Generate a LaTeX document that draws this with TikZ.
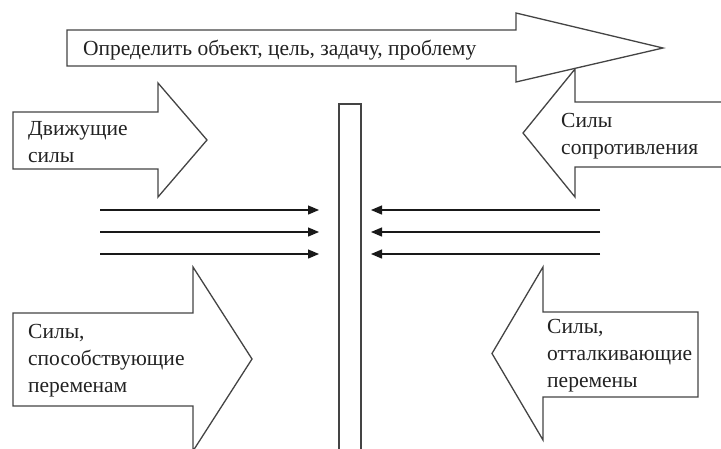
\documentclass[tikz,border=0pt]{standalone}
\usepackage{fontspec}
\setmainfont{Liberation Serif}
\usetikzlibrary{arrows.meta}
\definecolor{linegray}{HTML}{444444}
\definecolor{txt}{HTML}{222222}
\begin{document}
\begin{tikzpicture}[x=1pt,y=-1pt,
  bigarrow/.style={draw=linegray, line width=1.3pt, fill=white, line join=miter},
  lbl/.style={anchor=base west, inner sep=0pt, align=left, font=\fontsize{21.5}{27}\selectfont, text=txt},
  force/.style={draw=black!90, line width=1.3pt, -{Triangle[length=11pt,width=9pt]}}
]
\useasboundingbox (0,0) rectangle (721,448);
\clip (0,0) rectangle (721,448);
\fill[white] (0,0) rectangle (721,448);

% central bar
\draw[bigarrow] (339,455) -- (339,104) -- (361,104) -- (361,455);

% right top arrow (resistance)
\draw[bigarrow] (730,102) -- (575,102) -- (575,69) -- (523,133) -- (575,197) -- (575,167) -- (730,167);

% top arrow
\draw[bigarrow] (67,30) -- (516,30) -- (516,13) -- (663,48) -- (516,82) -- (516,66) -- (67,66) -- cycle;

% left top arrow (driving)
\draw[bigarrow] (13,112) -- (158,112) -- (158,83) -- (207,140) -- (158,197) -- (158,169) -- (13,169) -- cycle;

% bottom left arrow
\draw[bigarrow] (13,313) -- (193,313) -- (193,267) -- (252,359) -- (193,451) -- (193,406) -- (13,406) -- cycle;

% bottom right arrow
\draw[bigarrow] (698,312) -- (543,312) -- (543,267) -- (492,353.5) -- (543,440) -- (543,397) -- (698,397) -- cycle;

% labels (base anchor = baseline of last line)
\node[lbl] (goal) at (83,55) {Определить объект, цель, задачу, проблему};
\node[lbl] (drive) at (28,162) {Движущие\\силы};
\node[lbl] (resist) at (561,154) {Силы\\сопротивления};
\node[lbl] (promote) at (28,392) {Силы,\\способствующие\\переменам};
\node[lbl] (repel) at (547,387) {Силы,\\отталкивающие\\перемены};

% force arrows
\coordinate (la1) at (100,210); \coordinate (lb1) at (319,210);
\coordinate (la2) at (100,232); \coordinate (lb2) at (319,232);
\coordinate (la3) at (100,254); \coordinate (lb3) at (319,254);
\coordinate (ra1) at (600,210); \coordinate (rb1) at (371,210);
\coordinate (ra2) at (600,232); \coordinate (rb2) at (371,232);
\coordinate (ra3) at (600,254); \coordinate (rb3) at (371,254);
\foreach \i in {1,2,3} {
  \draw[force] (la\i) -- (lb\i);
  \draw[force] (ra\i) -- (rb\i);
}
\end{tikzpicture}
\end{document}
